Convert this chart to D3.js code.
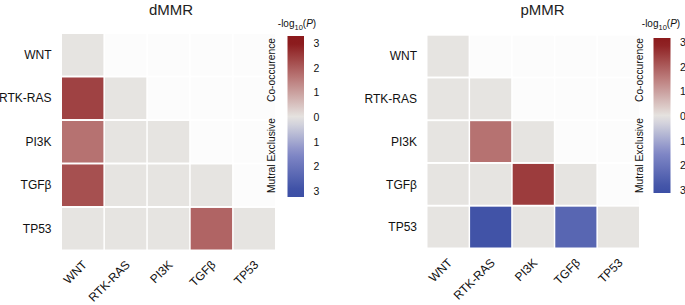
<!DOCTYPE html>
<html>
<head>
<meta charset="utf-8">
<script src="https://cdn.jsdelivr.net/npm/d3@7"></script>
<style>
html,body{margin:0;padding:0;background:#fff;}
svg{display:block;font-family:"Liberation Sans",Arial,Helvetica,sans-serif;}
</style>
</head>
<body>
<svg id="chart" width="685" height="305"></svg>
<script>
// ---- data ----
const categories = ["WNT", "RTK-RAS", "PI3K", "TGFβ", "TP53"];
const panelTitles = ["dMMR", "pMMR"];
// lower triangle (row i, columns 0..i) of signed -log10(P): + co-occurrence, - mutual exclusivity
const dmmrValues = [
  [0],
  [2.4, 0],
  [1.7, 0, 0],
  [2.2, 0, 0, 0],
  [0, 0, 0, 1.9, 0]
];
const pmmrValues = [
  [0],
  [0, 0],
  [0, 1.7, 0],
  [0, 0, 2.5, 0],
  [0, -2.9, 0, -2.4, 0]
];
const legendTicks = [3, 2, 1, 0, -1, -2, -3];
const legendTickLabels = ["3", "2", "1", "0", "1", "2", "3"];
const colorStops = [-3, -1.5, 0, 1.5, 3];
const colorRange = ["#3c4fa5", "#8188c6", "#e6e4e1", "#bd7f7e", "#8b1a1c"];

// ---- drawing ----
const svg = d3.select("#chart");
const color = d3.scaleLinear().domain(colorStops).range(colorRange).clamp(true);

const panels = [
  {title: panelTitles[0], values: dmmrValues, x0: 62, x1: 275, y0: 34, y1: 249.5, titleX: 171,
   legend: {x: 287.5, w: 16.5, y0: 36, y1: 197, zeroY: 117.2, step: 24.6, gid: "g0", titleX: 297, sideX: 275}},
  {title: panelTitles[1], values: pmmrValues, x0: 427.5, x1: 639, y0: 35.7, y1: 247.5, titleX: 542.5,
   legend: {x: 653.5, w: 17, y0: 38, y1: 193, zeroY: 116.2, step: 24.6, gid: "g1", titleX: 661, sideX: 642.5}}
];

const defs = svg.append("defs");

panels.forEach(p => {
  const g = svg.append("g");
  const x = d3.scaleBand().domain(categories).range([p.x0, p.x1]).paddingInner(0.035);
  const y = d3.scaleBand().domain(categories).range([p.y0, p.y1]).paddingInner(0.045);

  // faint upper triangle background tiles
  const upper = [];
  categories.forEach((r, i) => categories.forEach((c, j) => { if (j > i) upper.push({r, c}); }));
  g.selectAll("rect.up").data(upper).join("rect")
    .attr("x", d => x(d.c)).attr("y", d => y(d.r))
    .attr("width", x.bandwidth()).attr("height", y.bandwidth())
    .attr("fill", "#fcfcfc");

  const cells = [];
  p.values.forEach((row, i) => row.forEach((v, j) => cells.push({r: categories[i], c: categories[j], v})));
  g.selectAll("rect.cell").data(cells).join("rect")
    .attr("class", "cell")
    .attr("x", d => x(d.c)).attr("y", d => y(d.r))
    .attr("width", x.bandwidth()).attr("height", y.bandwidth())
    .attr("fill", d => color(d.v));

  // title
  g.append("text").attr("x", p.titleX).attr("y", 14.5).attr("text-anchor", "middle")
    .attr("font-size", 15).attr("fill", "#222").text(p.title);

  // y labels
  g.selectAll("text.yl").data(categories).join("text")
    .attr("x", p.x0 - 10.5).attr("y", d => y(d) + y.bandwidth() / 2)
    .attr("dy", "0.35em").attr("text-anchor", "end")
    .attr("font-size", 12).attr("fill", "#111").text(d => d);

  // x labels rotated
  g.selectAll("text.xl").data(categories).join("text")
    .attr("text-anchor", "end").attr("font-size", 12).attr("fill", "#111")
    .attr("transform", d => `translate(${x(d) + x.bandwidth() / 2 + 5},${p.y1 + 16}) rotate(-45)`)
    .text(d => d);

  // legend
  const L = p.legend;
  const ly = d3.scaleLinear().domain([0, 1]).range([L.zeroY, L.zeroY - L.step]);
  const vTop = ly.invert(L.y0), vBot = ly.invert(L.y1);
  const grad = defs.append("linearGradient").attr("id", L.gid)
    .attr("x1", 0).attr("y1", 0).attr("x2", 0).attr("y2", 1);
  d3.range(0, 1.0001, 0.05).forEach(t => {
    const v = vTop + (vBot - vTop) * t;
    grad.append("stop").attr("offset", t).attr("stop-color", color(v));
  });
  g.append("rect").attr("x", L.x).attr("y", L.y0).attr("width", L.w).attr("height", L.y1 - L.y0)
    .attr("fill", `url(#${L.gid})`);
  g.selectAll("text.lt").data(legendTicks).join("text")
    .attr("x", L.x + L.w + 9.5).attr("y", d => ly(d)).attr("dy", "0.36em")
    .attr("font-size", 10.5).attr("fill", "#111")
    .text((d, i) => legendTickLabels[i]);
  const lt = g.append("text").attr("x", L.titleX).attr("y", 27).attr("text-anchor", "middle")
    .attr("font-size", 10).attr("fill", "#111");
  lt.append("tspan").text("-log");
  lt.append("tspan").attr("font-size", 7.5).attr("dy", 2.5).text("10");
  lt.append("tspan").attr("dy", -2.5).text("(");
  lt.append("tspan").attr("font-style", "italic").text("P");
  lt.append("tspan").text(")");

  g.append("text").attr("transform", `translate(${L.sideX},70) rotate(-90)`)
    .attr("text-anchor", "middle").attr("font-size", 10.3).attr("fill", "#111").text("Co-occurence");
  g.append("text").attr("transform", `translate(${L.sideX},155.5) rotate(-90)`)
    .attr("text-anchor", "middle").attr("font-size", 10.3).attr("fill", "#111").text("Mutral Exclusive");
});
</script>
</body>
</html>
